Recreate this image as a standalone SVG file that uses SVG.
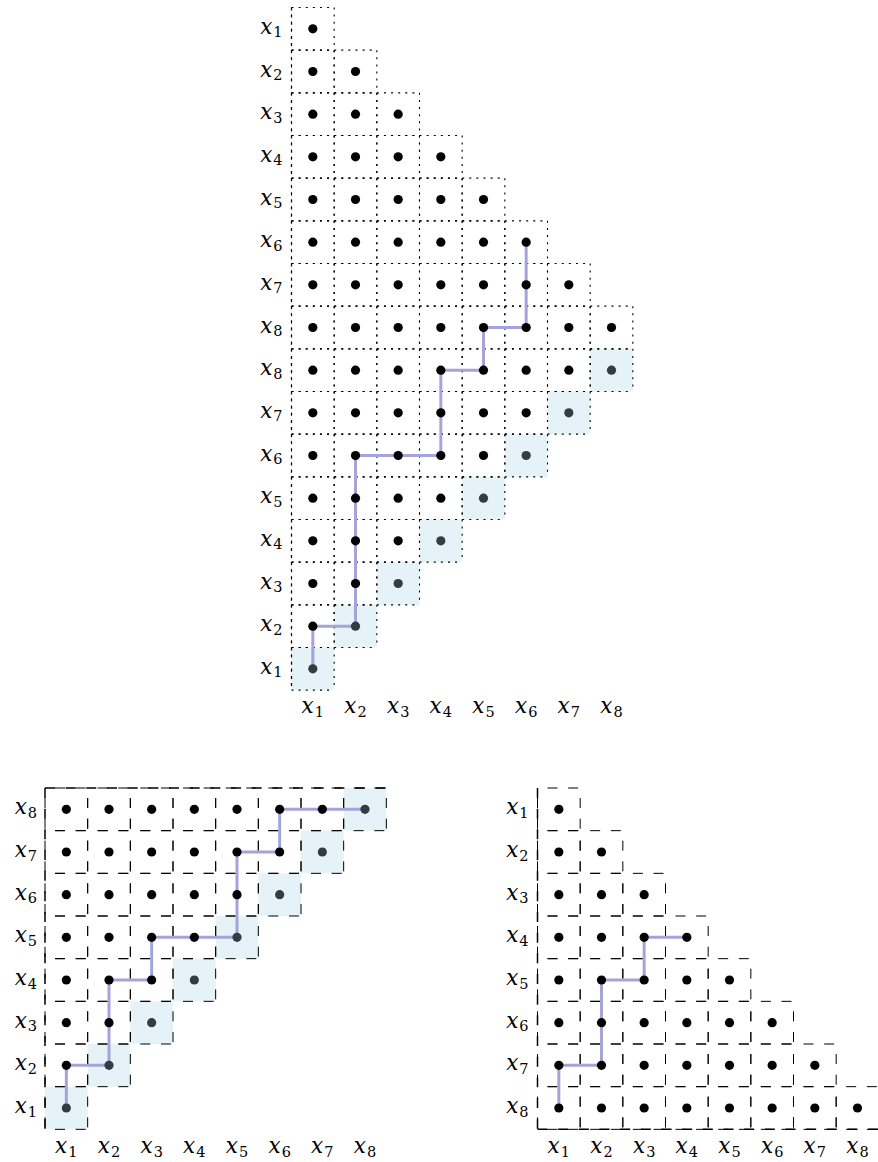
<svg xmlns="http://www.w3.org/2000/svg" width="878" height="1162" viewBox="0 0 878 1162">
<style>
.bt{fill:none;stroke:#000;stroke-width:1.1;stroke-dasharray:2 5.111}
.bd{fill:none;stroke:#000;stroke-width:1;stroke-dasharray:10 10.667;stroke-dashoffset:10.667}
.axt{fill:none;stroke:#000;stroke-width:1.2;stroke-dasharray:3 4.111}
.ax{fill:none;stroke:#000;stroke-width:1.5;stroke-dasharray:10 10.667}
.sf{fill:#e5f2f7}
.dk{fill:#000}
.dg{fill:#2f3d45}
.pth{fill:none;stroke:#a4a4d8;stroke-width:3}
.lb{font-family:"DejaVu Serif","Liberation Serif",serif;font-style:italic;font-size:21.5px;fill:#000}
.sb{font-style:normal;font-size:14.5px}
</style>
<defs>
<path id="e" d="M0 0h42.667M0 0v42.667M42.667 0v42.667M0 42.667h42.667"/>
<rect id="f" width="42.667" height="42.667"/>
<circle id="o" cx="21.333" cy="21.333" r="4.6"/>
<g id="r1"><use href="#e"/></g>
<g id="r2"><use href="#r1"/><use href="#e" x="42.667"/></g>
<g id="r3"><use href="#r2"/><use href="#e" x="85.333"/></g>
<g id="r4"><use href="#r3"/><use href="#e" x="128"/></g>
<g id="r5"><use href="#r4"/><use href="#e" x="170.667"/></g>
<g id="r6"><use href="#r5"/><use href="#e" x="213.333"/></g>
<g id="r7"><use href="#r6"/><use href="#e" x="256"/></g>
<g id="r8"><use href="#r7"/><use href="#e" x="298.667"/></g>
<g id="q1"><use href="#o"/></g>
<g id="q2"><use href="#q1"/><use href="#o" x="42.667"/></g>
<g id="q3"><use href="#q2"/><use href="#o" x="85.333"/></g>
<g id="q4"><use href="#q3"/><use href="#o" x="128"/></g>
<g id="q5"><use href="#q4"/><use href="#o" x="170.667"/></g>
<g id="q6"><use href="#q5"/><use href="#o" x="213.333"/></g>
<g id="q7"><use href="#q6"/><use href="#o" x="256"/></g>
<g id="q8"><use href="#q7"/><use href="#o" x="298.667"/></g>
</defs>

<!-- Top grid -->
<g id="grid-top" transform="translate(291.5 7.5)">
 <g class="sf">
  <use href="#f" x="298.667" y="341.333"/><use href="#f" x="256" y="384"/><use href="#f" x="213.333" y="426.667"/><use href="#f" x="170.667" y="469.333"/>
  <use href="#f" x="128" y="512"/><use href="#f" x="85.333" y="554.667"/><use href="#f" x="42.667" y="597.333"/><use href="#f" x="0" y="640"/>
 </g>
 <g class="bt">
  <use href="#r1" y="0"/><use href="#r2" y="42.667"/><use href="#r3" y="85.333"/><use href="#r4" y="128"/>
  <use href="#r5" y="170.667"/><use href="#r6" y="213.333"/><use href="#r7" y="256"/><use href="#r8" y="298.667"/>
  <use href="#r8" y="341.333"/><use href="#r7" y="384"/><use href="#r6" y="426.667"/><use href="#r5" y="469.333"/>
  <use href="#r4" y="512"/><use href="#r3" y="554.667"/><use href="#r2" y="597.333"/><use href="#r1" y="640"/>
 </g>
 <path class="axt" d="M0 0V682.667"/>
 <g id="connectors-top">
  <path class="pth" d="M21.333 661.333V618.667H64V448H149.333V362.667H192V320H234.667V234.667"/>
 </g>
 <g class="dk">
  <use href="#q1" y="0"/><use href="#q2" y="42.667"/><use href="#q3" y="85.333"/><use href="#q4" y="128"/>
  <use href="#q5" y="170.667"/><use href="#q6" y="213.333"/><use href="#q7" y="256"/><use href="#q8" y="298.667"/>
  <use href="#q7" y="341.333"/><use href="#q6" y="384"/><use href="#q5" y="426.667"/><use href="#q4" y="469.333"/>
  <use href="#q3" y="512"/><use href="#q2" y="554.667"/><use href="#q1" y="597.333"/>
 </g>
 <g class="dg">
  <use href="#o" x="298.667" y="341.333"/><use href="#o" x="256" y="384"/><use href="#o" x="213.333" y="426.667"/><use href="#o" x="170.667" y="469.333"/>
  <use href="#o" x="128" y="512"/><use href="#o" x="85.333" y="554.667"/><use href="#o" x="42.667" y="597.333"/><use href="#o" x="0" y="640"/>
 </g>
</g>
<g id="labels-top" class="lb">
 <g text-anchor="end">
  <text x="282.5" y="33.8">x<tspan class="sb" dx="1" dy="3.5">1</tspan></text>
  <text x="282.5" y="76.5">x<tspan class="sb" dx="1" dy="3.5">2</tspan></text>
  <text x="282.5" y="119.2">x<tspan class="sb" dx="1" dy="3.5">3</tspan></text>
  <text x="282.5" y="161.8">x<tspan class="sb" dx="1" dy="3.5">4</tspan></text>
  <text x="282.5" y="204.5">x<tspan class="sb" dx="1" dy="3.5">5</tspan></text>
  <text x="282.5" y="247.2">x<tspan class="sb" dx="1" dy="3.5">6</tspan></text>
  <text x="282.5" y="289.8">x<tspan class="sb" dx="1" dy="3.5">7</tspan></text>
  <text x="282.5" y="332.5">x<tspan class="sb" dx="1" dy="3.5">8</tspan></text>
  <text x="282.5" y="375.2">x<tspan class="sb" dx="1" dy="3.5">8</tspan></text>
  <text x="282.5" y="417.8">x<tspan class="sb" dx="1" dy="3.5">7</tspan></text>
  <text x="282.5" y="460.5">x<tspan class="sb" dx="1" dy="3.5">6</tspan></text>
  <text x="282.5" y="503.2">x<tspan class="sb" dx="1" dy="3.5">5</tspan></text>
  <text x="282.5" y="545.8">x<tspan class="sb" dx="1" dy="3.5">4</tspan></text>
  <text x="282.5" y="588.5">x<tspan class="sb" dx="1" dy="3.5">3</tspan></text>
  <text x="282.5" y="631.2">x<tspan class="sb" dx="1" dy="3.5">2</tspan></text>
  <text x="282.5" y="673.8">x<tspan class="sb" dx="1" dy="3.5">1</tspan></text>
 </g>
 <g text-anchor="middle">
  <text x="312.8" y="713">x<tspan class="sb" dx="1" dy="3.5">1</tspan></text>
  <text x="355.5" y="713">x<tspan class="sb" dx="1" dy="3.5">2</tspan></text>
  <text x="398.2" y="713">x<tspan class="sb" dx="1" dy="3.5">3</tspan></text>
  <text x="440.8" y="713">x<tspan class="sb" dx="1" dy="3.5">4</tspan></text>
  <text x="483.5" y="713">x<tspan class="sb" dx="1" dy="3.5">5</tspan></text>
  <text x="526.2" y="713">x<tspan class="sb" dx="1" dy="3.5">6</tspan></text>
  <text x="568.8" y="713">x<tspan class="sb" dx="1" dy="3.5">7</tspan></text>
  <text x="611.5" y="713">x<tspan class="sb" dx="1" dy="3.5">8</tspan></text>
 </g>
</g>

<!-- Bottom-left grid -->
<g id="grid-bl" transform="translate(45 788)">
 <g class="sf">
  <use href="#f" x="298.667" y="0"/><use href="#f" x="256" y="42.667"/><use href="#f" x="213.333" y="85.333"/><use href="#f" x="170.667" y="128"/>
  <use href="#f" x="128" y="170.667"/><use href="#f" x="85.333" y="213.333"/><use href="#f" x="42.667" y="256"/><use href="#f" x="0" y="298.667"/>
 </g>
 <g class="bd">
  <use href="#r8" y="0"/><use href="#r7" y="42.667"/><use href="#r6" y="85.333"/><use href="#r5" y="128"/>
  <use href="#r4" y="170.667"/><use href="#r3" y="213.333"/><use href="#r2" y="256"/><use href="#r1" y="298.667"/>
 </g>
 <path class="ax" d="M0 0H341.333M0 0V341.333"/>
 <g id="connectors-bl">
  <path class="pth" d="M21.333 320V277.333H64V192H106.667V149.333H192V64H234.667V21.333H320"/>
 </g>
 <g class="dk">
  <use href="#q7" y="0"/><use href="#q6" y="42.667"/><use href="#q5" y="85.333"/><use href="#q4" y="128"/>
  <use href="#q3" y="170.667"/><use href="#q2" y="213.333"/><use href="#q1" y="256"/>
 </g>
 <g class="dg">
  <use href="#o" x="298.667" y="0"/><use href="#o" x="256" y="42.667"/><use href="#o" x="213.333" y="85.333"/><use href="#o" x="170.667" y="128"/>
  <use href="#o" x="128" y="170.667"/><use href="#o" x="85.333" y="213.333"/><use href="#o" x="42.667" y="256"/><use href="#o" x="0" y="298.667"/>
 </g>
</g>
<g id="labels-bl" class="lb">
 <g text-anchor="end">
  <text x="37" y="814.3">x<tspan class="sb" dx="1" dy="3.5">8</tspan></text>
  <text x="37" y="857">x<tspan class="sb" dx="1" dy="3.5">7</tspan></text>
  <text x="37" y="899.7">x<tspan class="sb" dx="1" dy="3.5">6</tspan></text>
  <text x="37" y="942.3">x<tspan class="sb" dx="1" dy="3.5">5</tspan></text>
  <text x="37" y="985">x<tspan class="sb" dx="1" dy="3.5">4</tspan></text>
  <text x="37" y="1027.7">x<tspan class="sb" dx="1" dy="3.5">3</tspan></text>
  <text x="37" y="1070.3">x<tspan class="sb" dx="1" dy="3.5">2</tspan></text>
  <text x="37" y="1113">x<tspan class="sb" dx="1" dy="3.5">1</tspan></text>
 </g>
 <g text-anchor="middle">
  <text x="66.3" y="1153">x<tspan class="sb" dx="1" dy="3.5">1</tspan></text>
  <text x="109" y="1153">x<tspan class="sb" dx="1" dy="3.5">2</tspan></text>
  <text x="151.7" y="1153">x<tspan class="sb" dx="1" dy="3.5">3</tspan></text>
  <text x="194.3" y="1153">x<tspan class="sb" dx="1" dy="3.5">4</tspan></text>
  <text x="237" y="1153">x<tspan class="sb" dx="1" dy="3.5">5</tspan></text>
  <text x="279.7" y="1153">x<tspan class="sb" dx="1" dy="3.5">6</tspan></text>
  <text x="322.3" y="1153">x<tspan class="sb" dx="1" dy="3.5">7</tspan></text>
  <text x="365" y="1153">x<tspan class="sb" dx="1" dy="3.5">8</tspan></text>
 </g>
</g>

<!-- Bottom-right grid -->
<g id="grid-br" transform="translate(537.5 788)">
 <g class="bd">
  <use href="#r1" y="0"/><use href="#r2" y="42.667"/><use href="#r3" y="85.333"/><use href="#r4" y="128"/>
  <use href="#r5" y="170.667"/><use href="#r6" y="213.333"/><use href="#r7" y="256"/><use href="#r8" y="298.667"/>
 </g>
 <path class="ax" d="M0 0V341.333M0 341.333H341.333"/>
 <g id="connectors-br">
  <path class="pth" d="M21.333 320V277.333H64V192H106.667V149.333H149.333"/>
 </g>
 <g class="dk">
  <use href="#q1" y="0"/><use href="#q2" y="42.667"/><use href="#q3" y="85.333"/><use href="#q4" y="128"/>
  <use href="#q5" y="170.667"/><use href="#q6" y="213.333"/><use href="#q7" y="256"/><use href="#q8" y="298.667"/>
 </g>
</g>
<g id="labels-br" class="lb">
 <g text-anchor="end">
  <text x="528.5" y="814.3">x<tspan class="sb" dx="1" dy="3.5">1</tspan></text>
  <text x="528.5" y="857">x<tspan class="sb" dx="1" dy="3.5">2</tspan></text>
  <text x="528.5" y="899.7">x<tspan class="sb" dx="1" dy="3.5">3</tspan></text>
  <text x="528.5" y="942.3">x<tspan class="sb" dx="1" dy="3.5">4</tspan></text>
  <text x="528.5" y="985">x<tspan class="sb" dx="1" dy="3.5">5</tspan></text>
  <text x="528.5" y="1027.7">x<tspan class="sb" dx="1" dy="3.5">6</tspan></text>
  <text x="528.5" y="1070.3">x<tspan class="sb" dx="1" dy="3.5">7</tspan></text>
  <text x="528.5" y="1113">x<tspan class="sb" dx="1" dy="3.5">8</tspan></text>
 </g>
 <g text-anchor="middle">
  <text x="558.8" y="1153">x<tspan class="sb" dx="1" dy="3.5">1</tspan></text>
  <text x="601.5" y="1153">x<tspan class="sb" dx="1" dy="3.5">2</tspan></text>
  <text x="644.2" y="1153">x<tspan class="sb" dx="1" dy="3.5">3</tspan></text>
  <text x="686.8" y="1153">x<tspan class="sb" dx="1" dy="3.5">4</tspan></text>
  <text x="729.5" y="1153">x<tspan class="sb" dx="1" dy="3.5">5</tspan></text>
  <text x="772.2" y="1153">x<tspan class="sb" dx="1" dy="3.5">6</tspan></text>
  <text x="814.8" y="1153">x<tspan class="sb" dx="1" dy="3.5">7</tspan></text>
  <text x="857.5" y="1153">x<tspan class="sb" dx="1" dy="3.5">8</tspan></text>
 </g>
</g>
</svg>
